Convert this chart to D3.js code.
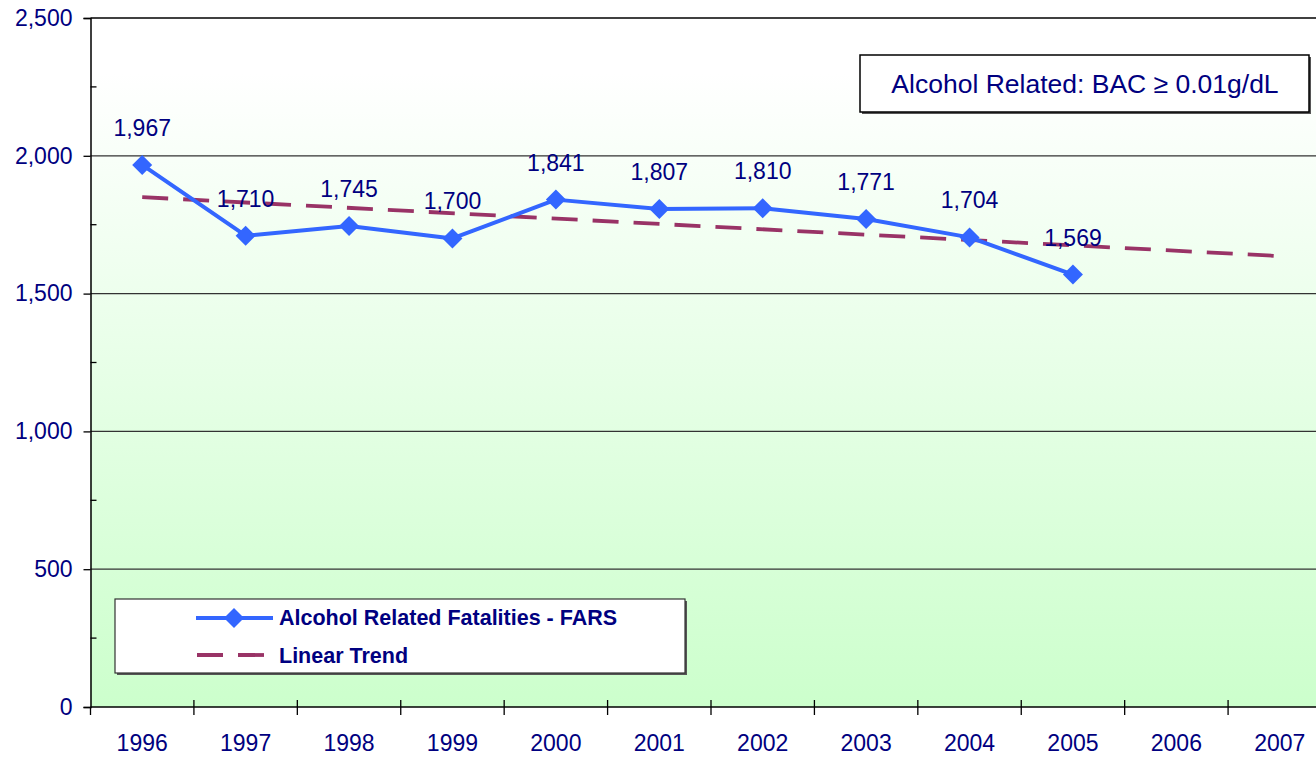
<!DOCTYPE html>
<html>
<head>
<meta charset="utf-8">
<script src="https://cdn.jsdelivr.net/npm/d3@7"></script>
<style>
  body { margin: 0; background: #ffffff; }
  svg { display: block; }
</style>
</head>
<body>
<div id="container"></div>
<script>
// chart values
var years = ["1996", "1997", "1998", "1999", "2000", "2001", "2002", "2003", "2004", "2005", "2006", "2007"];
var fatalities = [1967, 1710, 1745, 1700, 1841, 1807, 1810, 1771, 1704, 1569];
var trendYears = ["1996", "2007"];
var trendValues = [1850, 1636];
var yTicks = [0, 500, 1000, 1500, 2000, 2500];
var yMinorTicks = [250, 750, 1250, 1750, 2250];
var titleText = "Alcohol Related: BAC \u2265 0.01g/dL";
var legendLabels = ["Alcohol Related Fatalities - FARS", "Linear Trend"];

var Chart = {
    WIDTH: 1316,
    HEIGHT: 758,
    X_MIN: 90.5,
    X_MAX: 1331.5,
    Y_TOP: 18,
    Y_BOTTOM: 707,
    NAVY: "#000080",
    BLUE: "#3366FF",
    PLUM: "#993366",
    FONT: "'Liberation Sans', Arial, sans-serif"
};

var svg = d3.select("#container").append("svg")
        .attr("width", Chart.WIDTH)
        .attr("height", Chart.HEIGHT);

var x = d3.scaleBand().domain(years).range([Chart.X_MIN, Chart.X_MAX]);
var y = d3.scaleLinear().domain([0, 2500]).range([Chart.Y_BOTTOM, Chart.Y_TOP]);
function cx(yr) { return x(yr) + x.bandwidth() / 2; }

// background gradient
var defs = svg.append("defs");
var grad = defs.append("linearGradient").attr("id", "bg")
        .attr("x1", 0).attr("y1", 0).attr("x2", 0).attr("y2", 1);
grad.append("stop").attr("offset", "0%").attr("stop-color", "#ffffff");
grad.append("stop").attr("offset", "8%").attr("stop-color", "#ffffff");
grad.append("stop").attr("offset", "100%").attr("stop-color", "#ccffcc");

svg.append("rect")
        .attr("x", Chart.X_MIN)
        .attr("y", Chart.Y_TOP)
        .attr("width", Chart.X_MAX - Chart.X_MIN)
        .attr("height", Chart.Y_BOTTOM - Chart.Y_TOP)
        .style("fill", "url(#bg)");

// gridlines
svg.append("g").selectAll("line")
        .data(yTicks.filter(function (d) { return d > 0; }))
        .enter().append("line")
        .attr("x1", Chart.X_MIN).attr("x2", Chart.X_MAX)
        .attr("y1", function (d) { return y(d); })
        .attr("y2", function (d) { return y(d); })
        .style("stroke", function (d) { return d === 2500 ? "#000" : "#333"; })
        .style("stroke-width", 1.3);

// y axis
var yAxis = svg.append("g")
        .attr("transform", "translate(" + Chart.X_MIN + ",0)")
        .call(d3.axisLeft(y).tickValues(yTicks).tickSize(7).tickPadding(11)
                .tickFormat(d3.format(",")));
yAxis.select(".domain").style("stroke", "#000").style("stroke-width", 1.5);
yAxis.selectAll(".tick line").style("stroke", "#000").style("stroke-width", 1.3);
yAxis.selectAll("text")
        .style("font-family", Chart.FONT)
        .style("font-size", "23px")
        .style("fill", Chart.NAVY);

svg.append("g").selectAll("line")
        .data(yMinorTicks)
        .enter().append("line")
        .attr("x1", Chart.X_MIN).attr("x2", Chart.X_MIN + 6)
        .attr("y1", function (d) { return y(d); })
        .attr("y2", function (d) { return y(d); })
        .style("stroke", "#000")
        .style("stroke-width", 1.3);

// x axis
svg.append("line")
        .attr("x1", Chart.X_MIN).attr("x2", Chart.X_MAX)
        .attr("y1", Chart.Y_BOTTOM).attr("y2", Chart.Y_BOTTOM)
        .style("stroke", "#000").style("stroke-width", 1.5);

svg.append("g").selectAll("line")
        .data(years.concat(["end"]))
        .enter().append("line")
        .attr("x1", function (d) { return d === "end" ? Chart.X_MAX : x(d); })
        .attr("x2", function (d) { return d === "end" ? Chart.X_MAX : x(d); })
        .attr("y1", function (d, i) { return i === 0 ? Chart.Y_BOTTOM : Chart.Y_BOTTOM - 7; })
        .attr("y2", Chart.Y_BOTTOM + 8)
        .style("stroke", "#000")
        .style("stroke-width", 1.3);

svg.append("g").selectAll("text")
        .data(years)
        .enter().append("text")
        .attr("x", function (d) { return cx(d); })
        .attr("y", 751)
        .attr("text-anchor", "middle")
        .text(function (d) { return d; })
        .style("font-family", Chart.FONT)
        .style("font-size", "23px")
        .style("fill", Chart.NAVY);

// trend line
var trendLine = d3.line()
        .x(function (d, i) { return cx(trendYears[i]); })
        .y(function (d) { return y(d); });
svg.append("path")
        .datum(trendValues)
        .attr("d", trendLine)
        .style("fill", "none")
        .style("stroke", Chart.PLUM)
        .style("stroke-width", 3.8)
        .style("stroke-dasharray", "26,15");

// data line
var dataLine = d3.line()
        .x(function (d, i) { return cx(years[i]); })
        .y(function (d) { return y(d); });
svg.append("path")
        .datum(fatalities)
        .attr("d", dataLine)
        .style("fill", "none")
        .style("stroke", Chart.BLUE)
        .style("stroke-width", 4)
        .style("stroke-linejoin", "round");

var diamond = "M0,-10L10,0L0,10L-10,0Z";
svg.append("g").selectAll("path")
        .data(fatalities)
        .enter().append("path")
        .attr("d", diamond)
        .attr("transform", function (d, i) {
            return "translate(" + cx(years[i]) + "," + y(d) + ")";
        })
        .style("fill", Chart.BLUE);

// value labels
svg.append("g").selectAll("text")
        .data(fatalities)
        .enter().append("text")
        .attr("x", function (d, i) { return cx(years[i]); })
        .attr("y", function (d) { return y(d) - 29; })
        .attr("text-anchor", "middle")
        .text(function (d) { return d3.format(",")(d); })
        .style("font-family", Chart.FONT)
        .style("font-size", "23px")
        .style("fill", Chart.NAVY);

// title box
svg.append("rect")
        .attr("x", 862).attr("y", 57)
        .attr("width", 449).attr("height", 57)
        .style("fill", "#555");
svg.append("rect")
        .attr("x", 860).attr("y", 55)
        .attr("width", 449).attr("height", 57)
        .style("fill", "#fff")
        .style("stroke", "#000")
        .style("stroke-width", 1.5);
svg.append("text")
        .attr("x", 1085).attr("y", 93)
        .attr("text-anchor", "middle")
        .text(titleText)
        .style("font-family", Chart.FONT)
        .style("font-size", "26.5px")
        .style("fill", Chart.NAVY);

// legend
var legend = svg.append("g");
legend.append("rect")
        .attr("x", 117).attr("y", 601)
        .attr("width", 570).attr("height", 74)
        .style("fill", "#555");
legend.append("rect")
        .attr("x", 115).attr("y", 599)
        .attr("width", 570).attr("height", 74)
        .style("fill", "#fff")
        .style("stroke", "#333")
        .style("stroke-width", 1.2);
legend.append("line")
        .attr("x1", 196).attr("x2", 273)
        .attr("y1", 618).attr("y2", 618)
        .style("stroke", Chart.BLUE).style("stroke-width", 4);
legend.append("path")
        .attr("d", diamond)
        .attr("transform", "translate(234,618)")
        .style("fill", Chart.BLUE);
legend.append("line")
        .attr("x1", 197).attr("x2", 264)
        .attr("y1", 655).attr("y2", 655)
        .style("stroke", Chart.PLUM).style("stroke-width", 3.8)
        .style("stroke-dasharray", "26,15");
legend.selectAll("text.lbl")
        .data(legendLabels)
        .enter().append("text")
        .attr("class", "lbl")
        .attr("x", 279)
        .attr("y", function (d, i) { return 625 + i * 37.5; })
        .text(function (d) { return d; })
        .style("font-family", Chart.FONT)
        .style("font-size", "21.5px")
        .style("font-weight", "bold")
        .style("fill", Chart.NAVY);
</script>
</body>
</html>
